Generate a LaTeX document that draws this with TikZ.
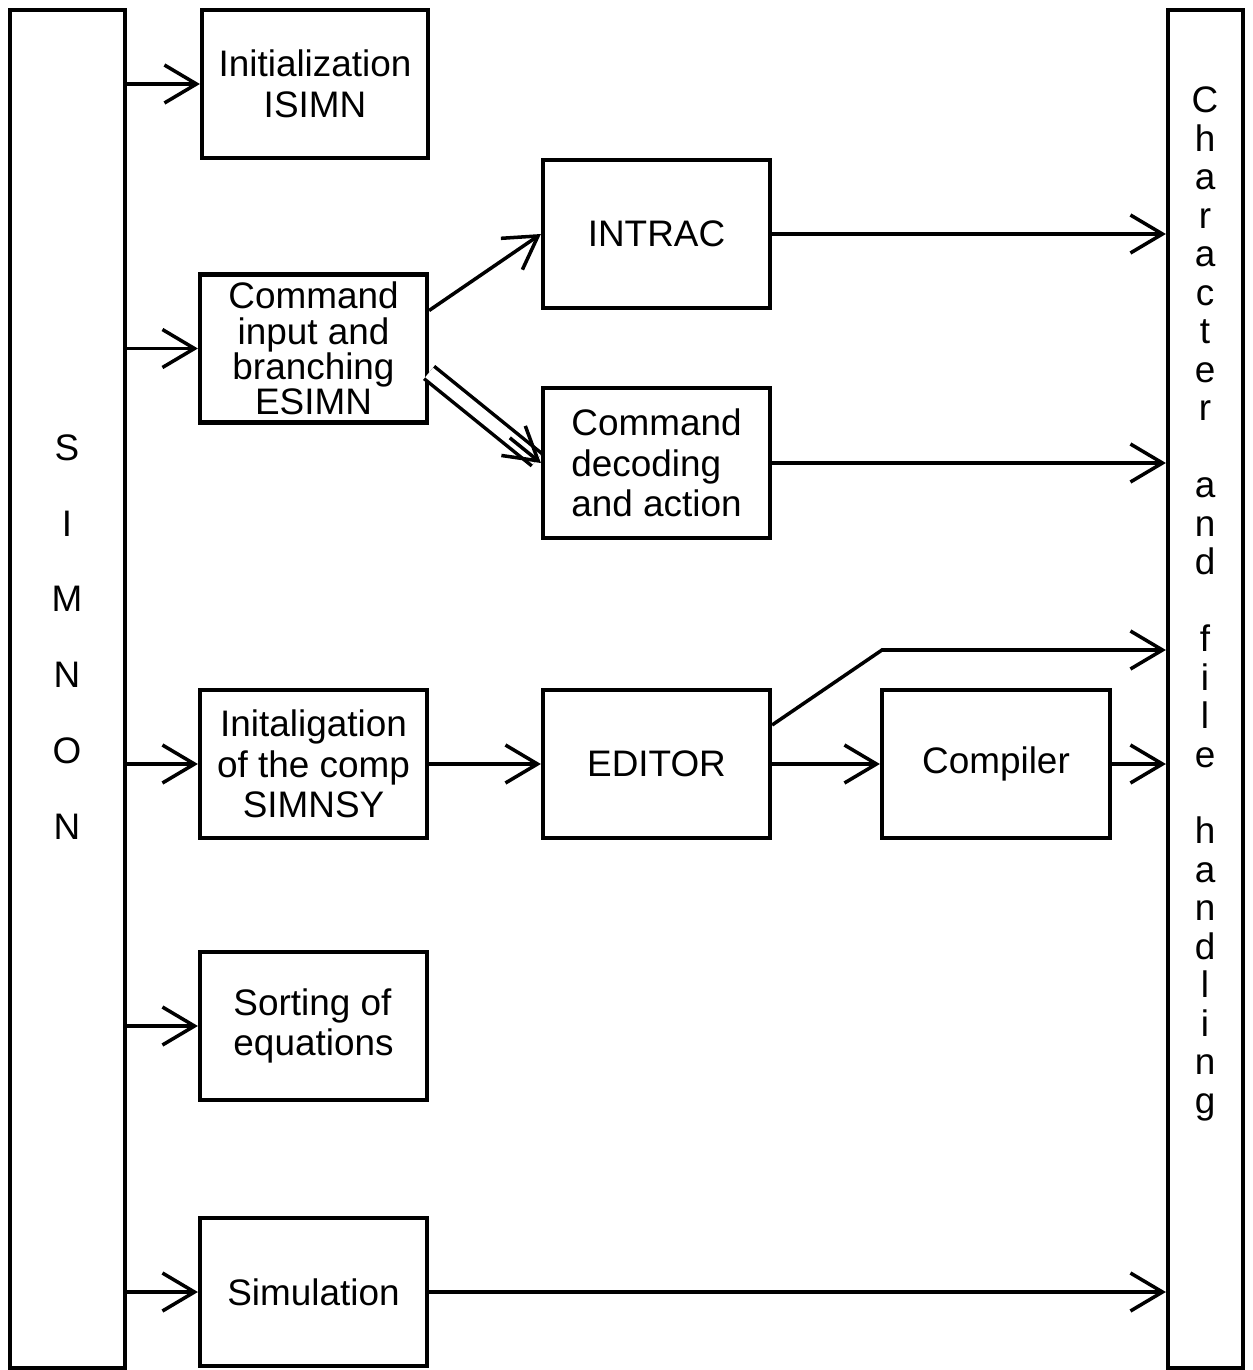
\documentclass[tikz,border=0pt]{standalone}
\usepackage{fontspec}
\setmainfont{Liberation Sans}
\usetikzlibrary{arrows.meta,calc}

\begin{document}
\begin{tikzpicture}[x=0.1mm,y=-0.1mm,line width=1pt,
  Box/.style={draw,line width=1.2pt,inner sep=0pt,minimum width=22.7mm,minimum height=14.8mm,
    font=\fontsize{10.5}{11.5}\selectfont},
  Bar/.style={draw,line width=1.2pt,inner sep=0pt,minimum height=135.8mm},
  Tip/.style={-{Straight Barb[length=3.2mm,width=3.8mm,line width=1pt]}}]
\useasboundingbox (0,0) rectangle (1253,1370);

% side bars
\node[Bar,minimum width=11.5mm] (Simnon) at (67.5,689) {};
\node[font=\fontsize{10.5}{21.6}\selectfont,align=center] at (67,637) {S\\I\\M\\N\\O\\N};
\node[Bar,minimum width=7.5mm] (Files) at (1205.5,689) {};
\node[font=\fontsize{10.5}{10.95}\selectfont,align=center] at (1205,604)
  {C\\h\\a\\r\\a\\c\\t\\e\\r\\[10.95pt]a\\n\\d\\[10.95pt]f\\i\\l\\e\\[10.95pt]h\\a\\n\\d\\l\\i\\n\\g};

% left column
\node[Box,minimum width=22.6mm,align=center] (Isimn) at (315,84) {Initialization\\ISIMN};
\node[Box,align=center,font=\fontsize{10.5}{10}\selectfont] (Esimn) at (313.5,348.5)
  {Command\\input and\\branching\\ESIMN};
\node[Box,align=center] (Simnsy) at (313.5,764) {Initaligation\\of the comp\\SIMNSY};
\node[Box,align=left] (Sorting) at (313.5,1026) {Sorting of\\equations};
\node[Box] (Simul) at (313.5,1292) {Simulation};

% middle column
\node[Box] (Intrac) at (656.5,234) {INTRAC};
\node[Box,minimum height=15mm,align=left] (Decode) at (656.5,463)
  {Command\\decoding\\and action};
\node[Box] (Editor) at (656.5,764) {EDITOR};
\node[Box,minimum width=22.8mm] (Compiler) at (996,764) {Compiler};
\coordinate (Bend) at (882,650);
\coordinate (Fork) at ([yshift=-2.4mm]Esimn.east);

% connectors
\draw[Tip] (Simnon.east |- Isimn) -- (Isimn.west);
\draw[Tip] (Simnon.east |- Esimn) -- (Esimn.west);
\draw[Tip] (Simnon.east |- Simnsy) -- (Simnsy.west);
\draw[Tip] (Simnon.east |- Sorting) -- (Sorting.west);
\draw[Tip] (Simnon.east |- Simul) -- (Simul.west);

\draw[Tip] ([yshift=3.8mm]Esimn.east) -- (Decode.west |- Intrac.west);
\draw[double,double distance=3.5pt,shorten >=1.5pt] (Fork) -- (Decode.west);
\draw[Tip] ($(Decode.west)!4mm!(Fork)$) -- (Decode.west);
\draw[Tip] (Intrac.east) -- (Intrac.east -| Files.west);
\draw[Tip] (Decode.east) -- (Decode.east -| Files.west);

\draw[Tip] (Simnsy.east) -- (Editor.west);
\draw[Tip] ([yshift=3.9mm]Editor.east) -- (Bend) -- (Bend -| Files.west);
\draw[Tip] (Editor.east) -- (Compiler.west);
\draw[Tip] (Compiler.east) -- (Compiler.east -| Files.west);
\draw[Tip] (Simul.east) -- (Simul.east -| Files.west);

\end{tikzpicture}
\end{document}
